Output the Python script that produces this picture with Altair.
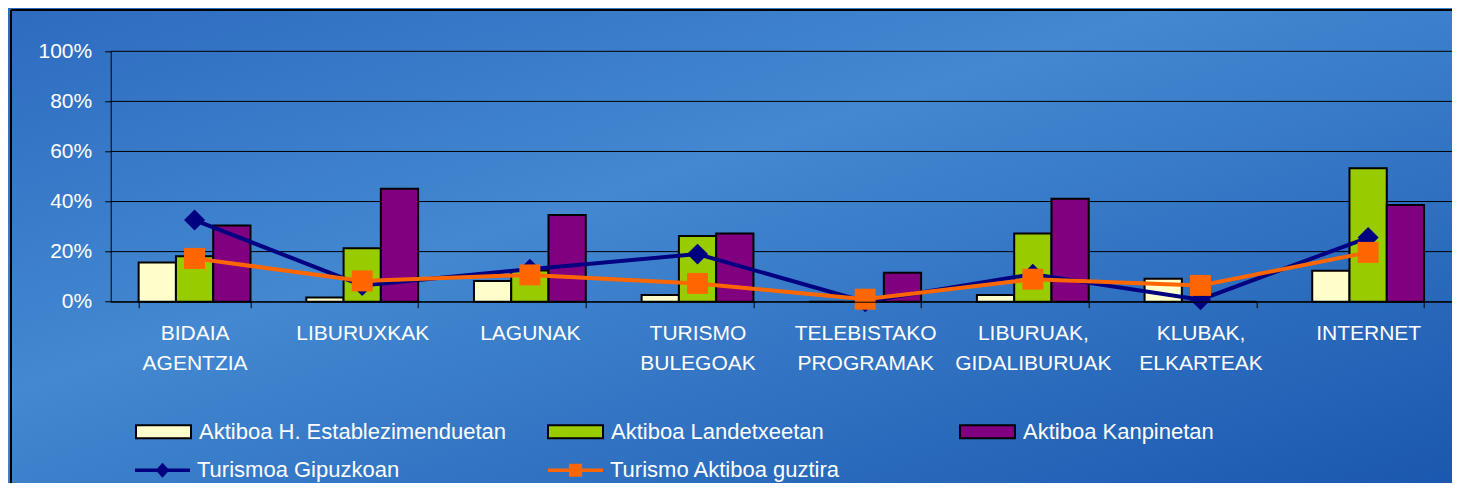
import altair as alt
import pandas as pd

categories = ["BIDAIA\nAGENTZIA", "LIBURUXKAK", "LAGUNAK", "TURISMO\nBULEGOAK",
              "TELEBISTAKO\nPROGRAMAK", "LIBURUAK,\nGIDALIBURUAK", "KLUBAK,\nELKARTEAK", "INTERNET"]

bar_series = ["Aktiboa H. Establezimenduetan", "Aktiboa Landetxeetan", "Aktiboa Kanpinetan"]
hotel = [15.7, 1.7, 8.3, 2.7, 0.0, 2.7, 9.2, 12.4]
landetxe = [18.2, 21.3, 12.5, 26.2, 0.0, 27.2, 0.0, 53.3]
kanpin = [30.4, 45.1, 34.6, 27.2, 11.6, 41.1, 0.0, 38.6]

line_series = ["Turismoa Gipuzkoan", "Turismo Aktiboa guztira"]
gipuzkoa = [32.6, 6.5, 13.0, 19.0, 0.0, 11.0, 0.8, 25.6]
guztira = [17.3, 8.3, 10.7, 7.3, 1.0, 9.0, 6.5, 19.7]

y_ticks = [0, 20, 40, 60, 80, 100]

bar_colors = ["#ffffcc", "#99cc00", "#800080"]
line_colors = ["#000080", "#ff6600"]
marker_shapes = ["diamond", "square"]

rows = []
for s, vals in zip(bar_series + line_series, [hotel, landetxe, kanpin, gipuzkoa, guztira]):
    for c, v in zip(categories, vals):
        rows.append({"cat": c, "series": s, "value": v})
df = pd.DataFrame(rows)

W = 1341.3
H = 250.4
PL = 102.7
PT = 43.3
TOTAL_H = 475
PB = TOTAL_H - PT - H

FONT = "Liberation Sans"

x_enc = alt.X("cat:N", sort=categories, title=None,
              scale=alt.Scale(paddingInner=0.333, paddingOuter=0.1667),
              axis=alt.Axis(labelExpr="split(datum.label, '\\n')", labelAngle=0,
                            labelColor="white", labelFontSize=21, labelFont=FONT,
                            labelLineHeight=30, labelPadding=15, labelBaseline="top",
                            tickBand="extent", tickSize=6, tickColor="black",
                            domainColor="black", domainWidth=1, grid=False, zindex=1))
y_scale = alt.Scale(domain=[0, 100], nice=False)
y_axis = alt.Axis(values=y_ticks, labelExpr="datum.value + '%'",
                  labelColor="white", labelFontSize=21, labelFont=FONT,
                  labelPadding=13, tickSize=6, tickColor="black",
                  domainColor="black", grid=False, zindex=1)
y_enc = alt.Y("value:Q", title=None, scale=y_scale, axis=y_axis)

bg = alt.Chart(pd.DataFrame({"k": [0]})).mark_rect(
    color=alt.LinearGradient(gradient="linear", x1=0, y1=0, x2=1, y2=1,
                             stops=[alt.GradientStop(color="#2d6bbf", offset=0),
                                    alt.GradientStop(color="#4388d1", offset=0.4),
                                    alt.GradientStop(color="#1a57ae", offset=1)])
).encode(x=alt.value(-PL), x2=alt.value(W + 5), y=alt.value(-PT), y2=alt.value(H + PB + 5))

border_top = alt.Chart(pd.DataFrame({"k": [0]})).mark_rule(color="black", strokeWidth=2).encode(
    x=alt.value(-PL + 3), x2=alt.value(W + 5), y=alt.value(-PT + 2))
border_left = alt.Chart(pd.DataFrame({"k": [0]})).mark_rule(color="black", strokeWidth=2).encode(
    x=alt.value(-PL + 3), y=alt.value(-PT + 2), y2=alt.value(H + PB + 5))

grid = alt.Chart(pd.DataFrame({"value": y_ticks})).mark_rule(color="black", strokeWidth=1).encode(
    y=y_enc)

bar_path = "M-1,-0.24H1V0.24H-1Z"
bars = alt.Chart(df).transform_filter(
    alt.FieldOneOfPredicate(field="series", oneOf=bar_series)
).mark_bar(stroke="black", strokeWidth=2).encode(
    x=x_enc,
    xOffset=alt.XOffset("series:N", sort=bar_series),
    y=y_enc,
    fill=alt.Fill("series:N", sort=bar_series,
                  scale=alt.Scale(domain=bar_series, range=bar_colors),
                  legend=alt.Legend(title=None, orient="none", legendX=24.3, legendY=351.7,
                                    direction="horizontal", columns=3, gridAlign="all",
                                    columnPadding=38, symbolType=bar_path, symbolSize=3025,
                                    symbolStrokeColor="black", symbolStrokeWidth=2,
                                    labelFontSize=22, labelColor="white", labelFont=FONT,
                                    labelOffset=7, labelLimit=600)),
)

layers = [bg, border_top, border_left, grid, bars]
for s, col, shp in zip(line_series, line_colors, marker_shapes):
    base = alt.Chart(df).transform_filter(alt.datum.series == s)
    layers.append(base.mark_line(color=col, strokeWidth=4).encode(x=x_enc, y=y_enc))
    layers.append(base.mark_point(shape=shp, filled=True, size=440, color=col, opacity=1)
                  .encode(x=x_enc, y=y_enc))

leg_paths = ["M-1,-0.06H1V0.06H-1Z M0,-0.27L0.25,0L0,0.27L-0.25,0Z",
             "M-1,-0.06H1V0.06H-1Z M-0.24,-0.24H0.24V0.24H-0.24Z"]
leg2 = alt.Legend(title=None, orient="none", legendX=24.3, legendY=391.2,
                  direction="horizontal", columns=2, columnPadding=148,
                  symbolSize=3025, symbolStrokeWidth=0,
                  labelFontSize=22, labelColor="white", labelFont=FONT,
                  labelOffset=7, labelLimit=600)
legend_layer = alt.Chart(df).transform_filter("false").mark_point(
    filled=True, size=3025, opacity=1).encode(
    color=alt.Color("series:N", scale=alt.Scale(domain=line_series, range=line_colors), legend=leg2),
    shape=alt.Shape("series:N", scale=alt.Scale(domain=line_series, range=leg_paths), legend=leg2),
)
layers.append(legend_layer)

chart = alt.layer(*layers).properties(
    width=W, height=H,
    autosize=alt.AutoSizeParams(type="none"),
    padding={"left": PL, "top": PT, "right": 0, "bottom": PB},
    background="#2f6fc2",
).configure_view(stroke=None).configure(font=FONT)

chart.save("out.html", embed_options={"renderer": "svg", "actions": False})
